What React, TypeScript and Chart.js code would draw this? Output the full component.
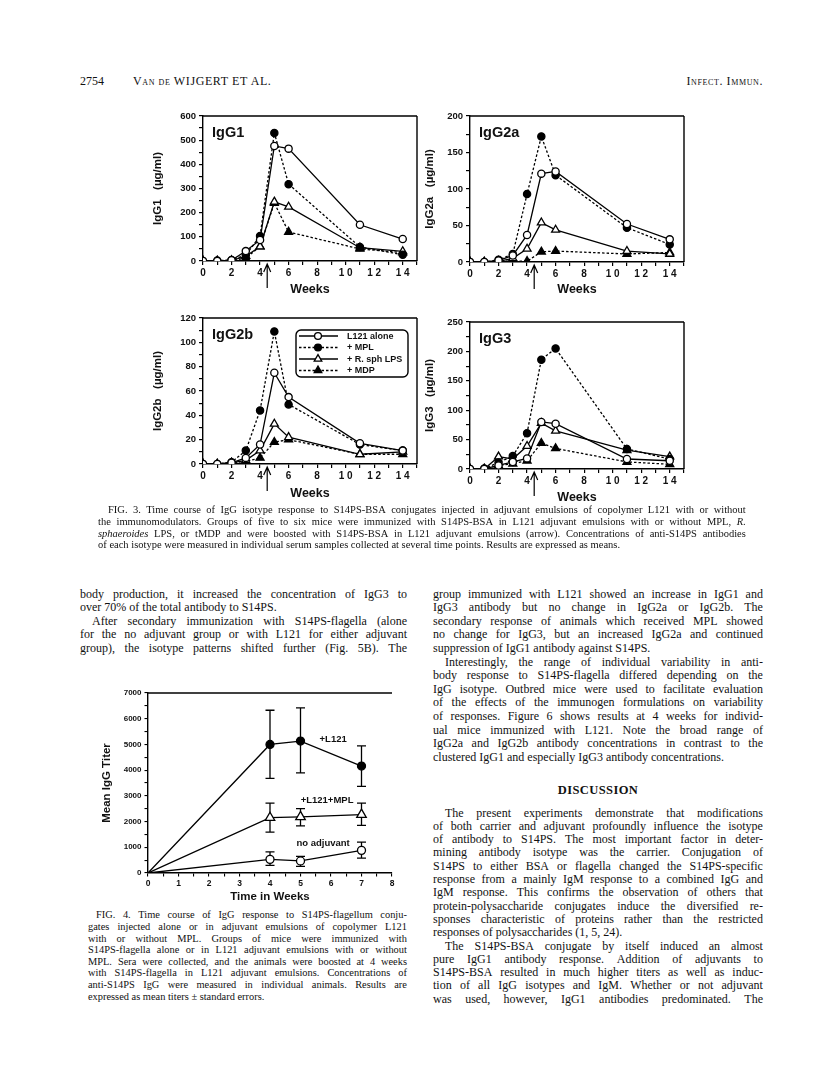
import React, { useEffect, useRef } from "react";
import { Chart, registerables } from "chart.js";

Chart.register(...registerables);

// ---------------- DATA ----------------
const WEEKS = [0, 1, 2, 3, 4, 5, 6, 11, 14];
const SERIES_NAMES = ["L121 alone", "+ MPL", "+ R. sph LPS", "+ MDP"];

const IGG1_L121 = [0, 0, 3, 41, 87, 476, 465, 150, 91];
const IGG1_MPL = [0, 2, 4, 25, 103, 530, 318, 58, 26];
const IGG1_LPS = [0, 0, 2, 20, 60, 245, 224, 55, 40];
const IGG1_MDP = [0, 0, 1, 12, 60, 240, 120, 50, 35];

const IGG2A_L121 = [0, 0, 2, 9, 37, 121, 124, 52, 31];
const IGG2A_MPL = [0, 0, 3, 11, 93, 172, 119, 47, 24];
const IGG2A_LPS = [0, 0, 1, 5, 18, 54, 44, 15, 11];
const IGG2A_MDP = [0, 0, 1, 1, 1, 14, 15, 11, 13];

const IGG2B_L121 = [0, 0, 1, 5, 16, 75, 55, 17, 11];
const IGG2B_MPL = [0, 0, 1.5, 11, 44, 109, 49, 16, 11];
const IGG2B_LPS = [0, 0, 1, 3, 11, 33, 22, 8, 10];
const IGG2B_MDP = [0, 0, 1, 2, 5, 18, 20, 8, 8];

const IGG3_L121 = [0, 0, 6, 12, 18, 80, 77, 17, 14];
const IGG3_MPL = [0, 1, 11, 22, 61, 186, 205, 34, 17];
const IGG3_LPS = [0, 0, 21, 17, 39, 78, 65, 32, 21];
const IGG3_MDP = [0, 0, 6, 9, 14, 44, 35, 12, 8];

const FIG4_WEEKS = [0, 4, 5, 7];
const FIG4_L121 = [0, 5000, 5130, 4160];
const FIG4_L121_HI = [null, 6330, 6420, 4940];
const FIG4_L121_LO = [null, 3680, 3890, 3370];
const FIG4_MPL = [0, 2150, 2180, 2270];
const FIG4_MPL_HI = [null, 2720, 2500, 2720];
const FIG4_MPL_LO = [null, 1590, 1830, 1850];
const FIG4_NOADJ = [0, 530, 470, 880];
const FIG4_NOADJ_HI = [null, 820, 650, 1200];
const FIG4_NOADJ_LO = [null, 300, 260, 580];
const FIG4_NAMES = ["+L121", "+L121+MPL", "no adjuvant"];

// ---------------- TEXT ----------------
const FIG3_CAPTION = [
  { t: "FIG. 3. Time course of IgG isotype response to S14PS-BSA conjugates injected in adjuvant emulsions of copolymer L121 with or without", j: true, ind: true },
  { t: "the immunomodulators. Groups of five to six mice were immunized with S14PS-BSA in L121 adjuvant emulsions with or without MPL, _R.", j: true },
  { t: "_sphaeroides LPS, or tMDP and were boosted with S14PS-BSA in L121 adjuvant emulsions (arrow). Concentrations of anti-S14PS antibodies", j: true },
  { t: "of each isotype were measured in individual serum samples collected at several time points. Results are expressed as means.", j: false },
];

const LEFT_COL = [
  { t: "body production, it increased the concentration of IgG3 to", j: true },
  { t: "over 70% of the total antibody to S14PS.", j: false },
  { t: "After secondary immunization with S14PS-flagella (alone", j: true, ind: true },
  { t: "for the no adjuvant group or with L121 for either adjuvant", j: true },
  { t: "group), the isotype patterns shifted further (Fig. 5B). The", j: true },
];

const RIGHT_COL = [
  { t: "group immunized with L121 showed an increase in IgG1 and", j: true },
  { t: "IgG3 antibody but no change in IgG2a or IgG2b. The", j: true },
  { t: "secondary response of animals which received MPL showed", j: true },
  { t: "no change for IgG3, but an increased IgG2a and continued", j: true },
  { t: "suppression of IgG1 antibody against S14PS.", j: false },
  { t: "Interestingly, the range of individual variability in anti-", j: true, ind: true },
  { t: "body response to S14PS-flagella differed depending on the", j: true },
  { t: "IgG isotype. Outbred mice were used to facilitate evaluation", j: true },
  { t: "of the effects of the immunogen formulations on variability", j: true },
  { t: "of responses. Figure 6 shows results at 4 weeks for individ-", j: true },
  { t: "ual mice immunized with L121. Note the broad range of", j: true },
  { t: "IgG2a and IgG2b antibody concentrations in contrast to the", j: true },
  { t: "clustered IgG1 and especially IgG3 antibody concentrations.", j: false },
];

const DISCUSSION = [
  { t: "The present experiments demonstrate that modifications", j: true, ind: true },
  { t: "of both carrier and adjuvant profoundly influence the isotype", j: true },
  { t: "of antibody to S14PS. The most important factor in deter-", j: true },
  { t: "mining antibody isotype was the carrier. Conjugation of", j: true },
  { t: "S14PS to either BSA or flagella changed the S14PS-specific", j: true },
  { t: "response from a mainly IgM response to a combined IgG and", j: true },
  { t: "IgM response. This confirms the observation of others that", j: true },
  { t: "protein-polysaccharide conjugates induce the diversified re-", j: true },
  { t: "sponses characteristic of proteins rather than the restricted", j: true },
  { t: "responses of polysaccharides (1, 5, 24).", j: false },
  { t: "The S14PS-BSA conjugate by itself induced an almost", j: true, ind: true },
  { t: "pure IgG1 antibody response. Addition of adjuvants to", j: true },
  { t: "S14PS-BSA resulted in much higher titers as well as induc-", j: true },
  { t: "tion of all IgG isotypes and IgM. Whether or not adjuvant", j: true },
  { t: "was used, however, IgG1 antibodies predominated. The", j: true },
];

const FIG4_CAPTION = [
  { t: "FIG. 4. Time course of IgG response to S14PS-flagellum conju-", j: true, ind: true },
  { t: "gates injected alone or in adjuvant emulsions of copolymer L121", j: true },
  { t: "with or without MPL. Groups of mice were immunized with", j: true },
  { t: "S14PS-flagella alone or in L121 adjuvant emulsions with or without", j: true },
  { t: "MPL. Sera were collected, and the animals were boosted at 4 weeks", j: true },
  { t: "with S14PS-flagella in L121 adjuvant emulsions. Concentrations of", j: true },
  { t: "anti-S14PS IgG were measured in individual animals. Results are", j: true },
  { t: "expressed as mean titers \u00b1 standard errors.", j: false },
];

// ---------------- STYLE ----------------
const SANS = "'Liberation Sans', Arial, Helvetica, sans-serif";
const SERIF = "'Liberation Serif', 'Times New Roman', serif";
const INK = "#111";

const STYLES = [
  { point: "circle", fill: "#fff", dash: [] as number[], r: 3.6 },
  { point: "circle", fill: "#000", dash: [2.5, 2], r: 3.6 },
  { point: "triangle", fill: "#fff", dash: [] as number[], r: 4.6 },
  { point: "triangle", fill: "#000", dash: [2.5, 2], r: 4.6 },
];

// ---------------- PLUGINS ----------------
function drawMarker(ctx: CanvasRenderingContext2D, kind: string, x: number, y: number, r: number, fill: string) {
  ctx.save();
  ctx.setLineDash([]);
  ctx.beginPath();
  if (kind === "circle") {
    ctx.arc(x, y, r, 0, Math.PI * 2);
  } else {
    for (let k = 0; k < 3; k++) {
      const a = (k * 2 * Math.PI) / 3;
      const px = x + Math.sin(a) * r;
      const py = y - Math.cos(a) * r;
      if (k === 0) ctx.moveTo(px, py);
      else ctx.lineTo(px, py);
    }
    ctx.closePath();
  }
  ctx.fillStyle = fill;
  ctx.fill();
  ctx.lineWidth = 1.3;
  ctx.strokeStyle = "#000";
  ctx.stroke();
  ctx.restore();
}

const framePlugin = {
  id: "frame",
  afterDraw(chart: any, _a: any, opts: any) {
    if (!opts || !opts.sides) return;
    const { ctx, chartArea: c } = chart;
    ctx.save();
    ctx.strokeStyle = "#000";
    ctx.lineWidth = 1.4;
    ctx.beginPath();
    if (opts.sides.includes("top")) {
      ctx.moveTo(c.left, c.top);
      ctx.lineTo(c.right, c.top);
    }
    if (opts.sides.includes("right")) {
      ctx.moveTo(c.right, c.top);
      ctx.lineTo(c.right, c.bottom);
    }
    ctx.stroke();
    ctx.restore();
  },
};

const arrowPlugin = {
  id: "boostArrow",
  afterDraw(chart: any, _a: any, opts: any) {
    if (!opts || opts.at == null) return;
    const { ctx, chartArea, scales } = chart;
    const x = scales.x.getPixelForValue(opts.at);
    const y0 = chartArea.bottom + 3;
    const y1 = chartArea.bottom + 27;
    ctx.save();
    ctx.strokeStyle = "#000";
    ctx.lineWidth = 1.2;
    ctx.beginPath();
    ctx.moveTo(x, y1);
    ctx.lineTo(x, y0);
    ctx.moveTo(x - 3.5, y0 + 8);
    ctx.lineTo(x, y0);
    ctx.lineTo(x + 3.5, y0 + 8);
    ctx.stroke();
    ctx.restore();
  },
};

const panelLabelPlugin = {
  id: "panelLabel",
  afterDraw(chart: any, _a: any, opts: any) {
    if (!opts || !opts.text) return;
    const { ctx, chartArea: c } = chart;
    ctx.save();
    ctx.fillStyle = INK;
    ctx.font = `bold 14.5px ${SANS}`;
    ctx.textBaseline = "middle";
    ctx.textAlign = "left";
    ctx.fillText(opts.text, c.left + 9, c.top + 17);
    ctx.restore();
  },
};

const boxLegendPlugin = {
  id: "boxLegend",
  afterDraw(chart: any, _a: any, opts: any) {
    if (!opts || !opts.show) return;
    const { ctx, chartArea: c } = chart;
    const x0 = c.left + 93;
    const y0 = c.top + 12;
    const w = c.right - 9 - x0;
    const h = 47;
    ctx.save();
    ctx.strokeStyle = "#000";
    ctx.lineWidth = 1.4;
    ctx.beginPath();
    const rr = 5;
    ctx.moveTo(x0 + rr, y0);
    ctx.arcTo(x0 + w, y0, x0 + w, y0 + h, rr);
    ctx.arcTo(x0 + w, y0 + h, x0, y0 + h, rr);
    ctx.arcTo(x0, y0 + h, x0, y0, rr);
    ctx.arcTo(x0, y0, x0 + w, y0, rr);
    ctx.closePath();
    ctx.fillStyle = "#fff";
    ctx.fill();
    ctx.stroke();
    SERIES_NAMES.forEach((name, i) => {
      const st = STYLES[i];
      const y = y0 + 6 + i * 11.5;
      ctx.save();
      ctx.setLineDash(st.dash);
      ctx.lineWidth = 1.3;
      ctx.beginPath();
      ctx.moveTo(x0 + 3, y);
      ctx.lineTo(x0 + 42, y);
      ctx.stroke();
      ctx.restore();
      drawMarker(ctx, st.point, x0 + 22, y, st.r * 0.95, st.fill);
      ctx.fillStyle = INK;
      ctx.font = `bold 9px ${SANS}`;
      ctx.textBaseline = "middle";
      ctx.textAlign = "left";
      ctx.fillText(name, x0 + 51, y + 0.5);
    });
    ctx.restore();
  },
};

const errorBarPlugin = {
  id: "errorBars",
  beforeDatasetsDraw(chart: any) {
    const { ctx, scales } = chart;
    chart.data.datasets.forEach((ds: any, di: number) => {
      if (!ds.errHi) return;
      const meta = chart.getDatasetMeta(di);
      ctx.save();
      ctx.strokeStyle = "#000";
      ctx.lineWidth = 1.3;
      ctx.setLineDash([]);
      meta.data.forEach((pt: any, i: number) => {
        const hi = ds.errHi[i];
        const lo = ds.errLo[i];
        if (hi == null || lo == null) return;
        const x = pt.x;
        const yh = scales.y.getPixelForValue(hi);
        const yl = scales.y.getPixelForValue(lo);
        ctx.beginPath();
        ctx.moveTo(x, yh);
        ctx.lineTo(x, yl);
        ctx.moveTo(x - 4.5, yh);
        ctx.lineTo(x + 4.5, yh);
        ctx.moveTo(x - 4.5, yl);
        ctx.lineTo(x + 4.5, yl);
        ctx.stroke();
      });
      ctx.restore();
    });
  },
};

const seriesLabelPlugin = {
  id: "seriesLabels",
  afterDraw(chart: any, _a: any, opts: any) {
    if (!opts || !opts.items) return;
    const { ctx, scales } = chart;
    ctx.save();
    ctx.fillStyle = INK;
    ctx.font = `bold 9.5px ${SANS}`;
    ctx.textBaseline = "middle";
    ctx.textAlign = "center";
    opts.items.forEach((it: any) => {
      ctx.fillText(it.text, scales.x.getPixelForValue(it.x), scales.y.getPixelForValue(it.y));
    });
    ctx.restore();
  },
};

// ---------------- CHART CONFIGS ----------------
type PanelSpec = {
  left: number;
  top: number;
  width: number;
  height: number;
  yW: number;
  xH: number;
  padTop: number;
  padRight: number;
  titlePad: number;
  ymax: number;
  ymajor: number;
  yminor: number;
  ytitle: string;
  label: string;
  series: number[][];
  legend?: boolean;
};

function spacedDigits(v: number) {
  return String(v).split("").join(" ");
}

function panelConfig(p: PanelSpec): any {
  return {
    type: "line",
    data: {
      datasets: p.series.map((vals, i) => {
        const st = STYLES[i];
        return {
          label: SERIES_NAMES[i],
          data: WEEKS.map((w, k) => ({ x: w, y: vals[k] })),
          borderColor: "#000",
          borderWidth: 1.3,
          borderDash: st.dash,
          pointStyle: st.point,
          pointRadius: st.r,
          pointBackgroundColor: st.fill,
          pointBorderColor: "#000",
          pointBorderWidth: 1.3,
          tension: 0,
          fill: false,
        };
      }),
    },
    options: {
      animation: false,
      responsive: false,
      devicePixelRatio: 1,
      layout: { padding: { top: p.padTop, right: p.padRight, left: 0, bottom: 0 } },
      plugins: {
        legend: { display: false },
        tooltip: { enabled: false },
        frame: { sides: ["top", "right"] },
        boostArrow: { at: 4.5 },
        panelLabel: { text: p.label },
        boxLegend: { show: !!p.legend },
      },
      scales: {
        x: {
          type: "linear",
          min: 0,
          max: 15,
          afterFit: (s: any) => {
            s.height = p.xH;
          },
          ticks: {
            stepSize: 1,
            autoSkip: false,
            maxRotation: 0,
            padding: 2,
            color: INK,
            font: { family: SANS, weight: "bold", size: 10 },
            callback: (v: number) => (v % 2 === 0 && v <= 14 ? spacedDigits(v) : ""),
          },
          grid: { display: true, drawOnChartArea: false, drawTicks: true, tickLength: 4, color: "#000", lineWidth: 1.2 },
          border: { display: true, color: "#000", width: 1.4 },
          title: {
            display: true,
            text: "Weeks",
            color: INK,
            font: { family: SANS, weight: "bold", size: 12.5 },
            padding: { top: 0, bottom: 3 },
          },
        },
        y: {
          type: "linear",
          min: 0,
          max: p.ymax,
          afterFit: (s: any) => {
            s.width = p.yW;
          },
          ticks: {
            stepSize: p.yminor,
            autoSkip: false,
            padding: 3,
            color: INK,
            font: { family: SANS, weight: "bold", size: 9.5 },
            callback: (v: number) => (v % p.ymajor === 0 ? String(v) : ""),
          },
          grid: { display: true, drawOnChartArea: false, drawTicks: true, tickLength: 4, color: "#000", lineWidth: 1.2 },
          border: { display: true, color: "#000", width: 1.4 },
          title: {
            display: true,
            text: p.ytitle,
            color: INK,
            font: { family: SANS, weight: "bold", size: 11.5 },
            padding: { top: p.titlePad, bottom: 0 },
          },
        },
      },
    },
    plugins: [framePlugin, arrowPlugin, panelLabelPlugin, boxLegendPlugin],
  };
}

function fig4Config(): any {
  const mk = (vals: number[], hi: (number | null)[], lo: (number | null)[], point: string, fill: string, r: number) => ({
    data: FIG4_WEEKS.map((w, k) => ({ x: w, y: vals[k] })),
    errHi: hi,
    errLo: lo,
    borderColor: "#000",
    borderWidth: 1.3,
    pointStyle: point,
    pointRadius: FIG4_WEEKS.map((w) => (w === 0 ? 0 : r)),
    pointBackgroundColor: fill,
    pointBorderColor: "#000",
    pointBorderWidth: 1.3,
    tension: 0,
    fill: false,
  });
  return {
    type: "line",
    data: {
      datasets: [
        { label: FIG4_NAMES[0], ...mk(FIG4_L121, FIG4_L121_HI, FIG4_L121_LO, "circle", "#000", 4) },
        { label: FIG4_NAMES[1], ...mk(FIG4_MPL, FIG4_MPL_HI, FIG4_MPL_LO, "triangle", "#fff", 5.5) },
        { label: FIG4_NAMES[2], ...mk(FIG4_NOADJ, FIG4_NOADJ_HI, FIG4_NOADJ_LO, "circle", "#fff", 4) },
      ],
    },
    options: {
      animation: false,
      responsive: false,
      devicePixelRatio: 1,
      layout: { padding: { top: 13, right: 12, left: 0, bottom: 0 } },
      plugins: {
        legend: { display: false },
        tooltip: { enabled: false },
        frame: { sides: ["top"] },
        seriesLabels: {
          items: [
            { text: FIG4_NAMES[0], x: 6.07, y: 5210 },
            { text: FIG4_NAMES[1], x: 5.87, y: 2840 },
            { text: FIG4_NAMES[2], x: 5.74, y: 1170 },
          ],
        },
      },
      scales: {
        x: {
          type: "linear",
          min: 0,
          max: 8,
          afterFit: (s: any) => {
            s.height = 32;
          },
          ticks: {
            stepSize: 0.5,
            autoSkip: false,
            maxRotation: 0,
            padding: 2,
            color: INK,
            font: { family: SANS, weight: "bold", size: 8.5 },
            callback: (v: number) => (Number.isInteger(v) ? String(v) : ""),
          },
          grid: { display: true, drawOnChartArea: false, drawTicks: true, tickLength: 3.5, color: "#000", lineWidth: 1.1 },
          border: { display: true, color: "#000", width: 1.4 },
          title: {
            display: true,
            text: "Time in Weeks",
            color: INK,
            font: { family: SANS, weight: "bold", size: 11.5 },
            padding: { top: 0, bottom: 1 },
          },
        },
        y: {
          type: "linear",
          min: 0,
          max: 7000,
          afterFit: (s: any) => {
            s.width = 53;
          },
          ticks: {
            stepSize: 500,
            autoSkip: false,
            padding: 3,
            color: INK,
            font: { family: SANS, weight: "bold", size: 8 },
            callback: (v: number) => (v % 1000 === 0 ? String(v) : ""),
          },
          grid: { display: true, drawOnChartArea: false, drawTicks: true, tickLength: 3.5, color: "#000", lineWidth: 1.1 },
          border: { display: true, color: "#000", width: 1.4 },
          title: {
            display: true,
            text: "Mean IgG Titer",
            color: INK,
            font: { family: SANS, weight: "bold", size: 11.5 },
            padding: { top: 5, bottom: 0 },
          },
        },
      },
    },
    plugins: [framePlugin, errorBarPlugin, seriesLabelPlugin],
  };
}

const PANELS: PanelSpec[] = [
  {
    left: 140, top: 100, width: 285, height: 200, yW: 63, xH: 39, padTop: 16, padRight: 8, titlePad: 11,
    ymax: 600, ymajor: 100, yminor: 50, ytitle: "IgG1   (\u00b5g/ml)", label: "IgG1",
    series: [IGG1_L121, IGG1_MPL, IGG1_LPS, IGG1_MDP],
  },
  {
    left: 407, top: 100, width: 285, height: 200, yW: 63, xH: 38, padTop: 16, padRight: 8, titlePad: 16,
    ymax: 200, ymajor: 50, yminor: 25, ytitle: "IgG2a   (\u00b5g/ml)", label: "IgG2a",
    series: [IGG2A_L121, IGG2A_MPL, IGG2A_LPS, IGG2A_MDP],
  },
  {
    left: 140, top: 302, width: 285, height: 202, yW: 63, xH: 40, padTop: 16, padRight: 8, titlePad: 11,
    ymax: 120, ymajor: 20, yminor: 10, ytitle: "IgG2b   (\u00b5g/ml)", label: "IgG2b",
    series: [IGG2B_L121, IGG2B_MPL, IGG2B_LPS, IGG2B_MDP], legend: true,
  },
  {
    left: 407, top: 306, width: 285, height: 202, yW: 63, xH: 39, padTop: 16, padRight: 8, titlePad: 16,
    ymax: 250, ymajor: 50, yminor: 25, ytitle: "IgG3   (\u00b5g/ml)", label: "IgG3",
    series: [IGG3_L121, IGG3_MPL, IGG3_LPS, IGG3_MDP],
  },
];

// ---------------- COMPONENTS ----------------
function ChartCanvas({ left, top, width, height, make }: { left: number; top: number; width: number; height: number; make: () => any }) {
  const ref = useRef<HTMLCanvasElement | null>(null);
  useEffect(() => {
    if (!ref.current) return;
    const chart = new Chart(ref.current, make());
    return () => chart.destroy();
  }, []);
  return (
    <canvas
      ref={ref}
      width={width}
      height={height}
      style={{ position: "absolute", left, top, width, height }}
    />
  );
}

type LineSpec = { t: string; j: boolean; ind?: boolean };

function Word({ w }: { w: string }) {
  if (w.startsWith("_")) return <span style={{ fontStyle: "italic" }}>{w.slice(1)}</span>;
  return <span>{w}</span>;
}

function TextBlock({ lines, x, y0, dy, w, size, indent }: { lines: LineSpec[]; x: number; y0: number; dy: number; w: number; size: number; indent: number }) {
  const lh = size + 3;
  return (
    <>
      {lines.map((ln, i) => {
        const ind = ln.ind ? indent : 0;
        const words = ln.t.split(" ");
        const base: React.CSSProperties = {
          position: "absolute",
          left: x + ind,
          top: y0 + i * dy - lh / 2,
          width: w - ind,
          height: lh,
          lineHeight: `${lh}px`,
          fontSize: size,
          fontFamily: SERIF,
          color: INK,
          whiteSpace: "nowrap",
        };
        if (ln.j) {
          return (
            <div key={i} style={{ ...base, display: "flex", justifyContent: "space-between" }}>
              {words.map((wd, k) => (
                <Word key={k} w={wd} />
              ))}
            </div>
          );
        }
        return (
          <div key={i} style={base}>
            {words.map((wd, k) => (
              <React.Fragment key={k}>
                {k > 0 ? " " : ""}
                <Word w={wd} />
              </React.Fragment>
            ))}
          </div>
        );
      })}
    </>
  );
}

export default function App() {
  return (
    <div
      style={{
        position: "absolute",
        left: 0,
        top: 0,
        width: 816,
        height: 1082,
        background: "#fff",
        overflow: "hidden",
        fontFamily: SERIF,
        color: INK,
      }}
    >
      {/* running header */}
      <div style={{ position: "absolute", left: 80, top: 74, fontSize: 12, lineHeight: "14px", whiteSpace: "nowrap" }}>2754</div>
      <div style={{ position: "absolute", left: 133, top: 74, fontSize: 12, lineHeight: "14px", whiteSpace: "nowrap", fontVariant: "small-caps", letterSpacing: 0.6 }}>
        Van de WIJGERT ET AL.
      </div>
      <div style={{ position: "absolute", right: 816 - 763, top: 74, fontSize: 12, lineHeight: "14px", whiteSpace: "nowrap", fontVariant: "small-caps", letterSpacing: 0.6 }}>
        Infect. Immun.
      </div>

      {PANELS.map((p, i) => (
        <ChartCanvas key={i} left={p.left} top={p.top} width={p.width} height={p.height} make={() => panelConfig(p)} />
      ))}

      <TextBlock lines={FIG3_CAPTION} x={98} y0={510} dy={11.7} w={648} size={10.5} indent={10} />

      <TextBlock lines={LEFT_COL} x={80} y0={594} dy={13.6} w={327} size={12} indent={12} />
      <TextBlock lines={RIGHT_COL} x={433} y0={594} dy={13.6} w={330} size={12} indent={12} />

      <div
        style={{
          position: "absolute",
          left: 433,
          width: 330,
          top: 790 - 8,
          lineHeight: "16px",
          fontSize: 12.5,
          fontWeight: "bold",
          textAlign: "center",
          letterSpacing: 0.4,
        }}
      >
        DISCUSSION
      </div>
      <TextBlock lines={DISCUSSION} x={433} y0={813} dy={13.3} w={330} size={12} indent={12} />

      <ChartCanvas left={95} top={680} width={309} height={225} make={fig4Config} />

      <TextBlock lines={FIG4_CAPTION} x={88} y0={915} dy={11.6} w={319} size={10.4} indent={8} />
    </div>
  );
}
